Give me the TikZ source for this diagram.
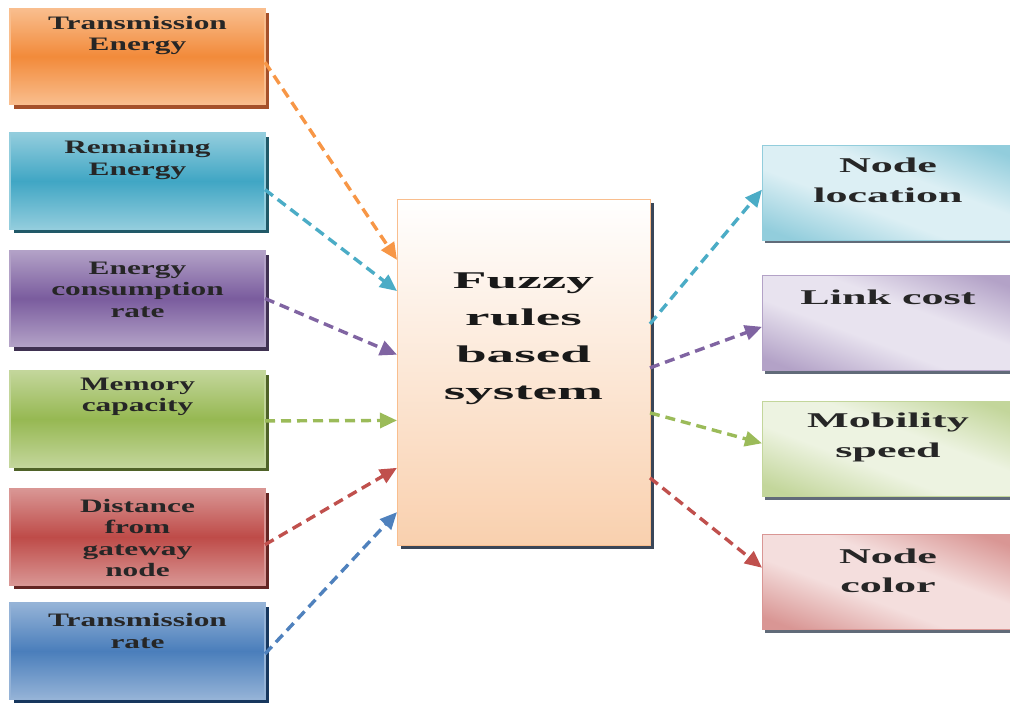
\documentclass[tikz,border=0pt]{standalone}
\usepackage{fontspec}
\setmainfont{Liberation Serif}
\newfontfamily\lfont[FakeStretch=1.65]{Liberation Serif}
\newfontfamily\rfont[FakeStretch=2.1]{Liberation Serif}
\newfontfamily\cfont[FakeStretch=2.3]{Liberation Serif}
\usetikzlibrary{arrows.meta,shadows,calc}
\definecolor{orB}{HTML}{F28A3A}\definecolor{orL}{HTML}{F9BE8E}\definecolor{orS}{HTML}{A5502A}
\definecolor{teB}{HTML}{40A6C4}\definecolor{teL}{HTML}{93CDDD}\definecolor{teS}{HTML}{215968}
\definecolor{puB}{HTML}{7A5C9E}\definecolor{puL}{HTML}{B3A2C7}\definecolor{puS}{HTML}{3F3151}
\definecolor{grB}{HTML}{96B852}\definecolor{grL}{HTML}{C3D69B}\definecolor{grS}{HTML}{4F6228}
\definecolor{rdB}{HTML}{BE4B48}\definecolor{rdL}{HTML}{D99694}\definecolor{rdS}{HTML}{632523}
\definecolor{blB}{HTML}{4A7EBB}\definecolor{blL}{HTML}{95B3D7}\definecolor{blS}{HTML}{17375E}
\definecolor{aOr}{HTML}{F79646}\definecolor{aTe}{HTML}{4BACC6}\definecolor{aPu}{HTML}{8064A2}
\definecolor{aGr}{HTML}{9BBB59}\definecolor{aRd}{HTML}{C0504D}\definecolor{aBl}{HTML}{4F81BD}
\definecolor{rTeC}{HTML}{92CDDC}\definecolor{rTeL}{HTML}{DCEFF4}
\definecolor{rPuC}{HTML}{B3A2C7}\definecolor{rPuL}{HTML}{E8E3EF}
\definecolor{rGrC}{HTML}{C3D69B}\definecolor{rGrL}{HTML}{EDF3E1}
\definecolor{rRdC}{HTML}{D99694}\definecolor{rRdL}{HTML}{F4DEDD}
\definecolor{peach}{HTML}{F9D0AE}
\definecolor{shd}{HTML}{3A4658}
\pgfdeclareverticalshading{vTe}{100bp}{color(0bp)=(rTeC); color(29bp)=(rTeC); color(44bp)=(rTeL); color(56bp)=(rTeL); color(71bp)=(rTeC); color(100bp)=(rTeC)}
\pgfdeclareverticalshading{vPu}{100bp}{color(0bp)=(rPuC); color(29bp)=(rPuC); color(44bp)=(rPuL); color(56bp)=(rPuL); color(71bp)=(rPuC); color(100bp)=(rPuC)}
\pgfdeclareverticalshading{vGr}{100bp}{color(0bp)=(rGrC); color(29bp)=(rGrC); color(44bp)=(rGrL); color(56bp)=(rGrL); color(71bp)=(rGrC); color(100bp)=(rGrC)}
\pgfdeclareverticalshading{vRd}{100bp}{color(0bp)=(rRdC); color(29bp)=(rRdC); color(44bp)=(rRdL); color(56bp)=(rRdL); color(71bp)=(rRdC); color(100bp)=(rRdC)}
\newcommand\diagfill[3]{%
  \begin{scope}
    \clip (#1.north west) rectangle (#1.south east);
    \shade[shading=#2, transform canvas={rotate around={-20.7:(#1.center)}}]
      ($(#1.center)+(-170,-92)$) rectangle ($(#1.center)+(170,92)$);
  \end{scope}
  \draw[draw=#3, line width=1pt] (#1.north west) rectangle (#1.south east);}
\tikzset{
  lbox/.style n args={3}{draw=#2, line width=1.5pt, top color=#2, bottom color=#2, middle color=#1,
    drop shadow={shadow xshift=4pt, shadow yshift=-4pt, fill=#3, opacity=1},
    minimum width=255pt, minimum height=96pt, inner sep=0pt, outer sep=0pt},
  rbox/.style={fill=#1, line width=1pt,
    drop shadow={shadow xshift=3pt, shadow yshift=-3pt, fill=shd!80, opacity=1},
    minimum width=252pt, minimum height=95pt, inner sep=0pt, outer sep=0pt},
  cbox/.style={draw=orL, line width=1pt, top color=white, bottom color=peach,
    drop shadow={shadow xshift=4pt, shadow yshift=-4pt, fill=shd, opacity=1},
    minimum width=253pt, minimum height=346pt, inner sep=0pt, outer sep=0pt},
  ltxt/.style={font=\lfont\bfseries\fontsize{19}{21.5}\selectfont, align=center, inner sep=0pt, text=black!85},
  rtxt/.style={font=\rfont\bfseries\fontsize{21}{29.5}\selectfont, align=center, inner sep=0pt, text=black!85},
  ctxt/.style={font=\cfont\bfseries\fontsize{24}{37}\selectfont, align=center, inner sep=0pt, text=black!90},
  arr/.style={draw=#1, line width=3.4pt, dash pattern=on 10pt off 6pt,
    -{Triangle[length=17pt,width=15pt,fill=#1]}}
}
\begin{document}
\begin{tikzpicture}[x=1pt,y=-1pt]
\useasboundingbox (0,0) rectangle (1010,702);
\clip (0,0) rectangle (1010,702);
% left boxes
\node[lbox={orB}{orL}{orS}] (te) at (137.5,56.5) {};
\node[lbox={teB}{teL}{teS}] (re) at (137.5,181) {};
\node[lbox={puB}{puL}{puS}] (ec) at (137.5,298.5) {};
\node[lbox={grB}{grL}{grS}] (mc) at (137.5,419) {};
\node[lbox={rdB}{rdL}{rdS}] (dg) at (137.5,537) {};
\node[lbox={blB}{blL}{blS}] (tr) at (137.5,651) {};
\node[ltxt] (te-t) at ([yshift=-27pt]te.north) {Transmission\\Energy};
\node[ltxt] (re-t) at ([yshift=-27pt]re.north) {Remaining\\Energy};
\node[ltxt] (ec-t) at ([yshift=-39pt]ec.north) {Energy\\consumption\\rate};
\node[ltxt] (mc-t) at ([yshift=-26pt]mc.north) {Memory\\capacity};
\node[ltxt] (dg-t) at ([yshift=-49pt]dg.north) {Distance\\from\\gateway\\node};
\node[ltxt] (tr-t) at ([yshift=-28pt]tr.north) {Transmission\\rate};
% center
\node[cbox] (fz) at (523.5,372) {};
\node[ctxt] (fz-t) at ([yshift=-139.5pt]fz.north) {Fuzzy\\rules\\based\\system};
% right boxes
\node[rbox=rTeL] (nl) at (888,192.5) {};
\node[rbox=rPuL] (lc) at (888,323) {};
\node[rbox=rGrL] (ms) at (888,449) {};
\node[rbox=rRdL] (nc) at (888,582) {};
\diagfill{nl}{vTe}{rTeC}
\diagfill{lc}{vPu}{rPuC}
\diagfill{ms}{vGr}{rGrC}
\diagfill{nc}{vRd}{rRdC}
\node[rtxt] (nl-t) at ([yshift=-35.5pt]nl.north) {Node\\location};
\node[rtxt] (lc-t) at ([yshift=-22pt]lc.north) {Link cost};
\node[rtxt] (ms-t) at ([yshift=-36pt]ms.north) {Mobility\\speed};
\node[rtxt] (nc-t) at ([yshift=-36.5pt]nc.north) {Node\\color};
% input arrows
\draw[arr=aOr] ($(te.north east)!0.56!(te.south east)$) -- ($(fz.north west)!0.176!(fz.south west)$);
\draw[arr=aTe] ($(re.north east)!0.59!(re.south east)$) -- ($(fz.north west)!0.266!(fz.south west)$);
\draw[arr=aPu] ($(ec.north east)!0.50!(ec.south east)$) -- ($(fz.north west)!0.45!(fz.south west)$);
\draw[arr=aGr] ($(mc.north east)!0.52!(mc.south east)$) -- ($(fz.north west)!0.64!(fz.south west)$);
\draw[arr=aRd] ($(dg.north east)!0.58!(dg.south east)$) -- ($(fz.north west)!0.777!(fz.south west)$);
\draw[arr=aBl] ($(tr.north east)!0.53!(tr.south east)$) -- ($(fz.north west)!0.905!(fz.south west)$);
% output arrows
\draw[arr=aTe] ($(fz.north east)!0.361!(fz.south east)$) -- ($(nl.north west)!0.47!(nl.south west)$);
\draw[arr=aPu] ($(fz.north east)!0.488!(fz.south east)$) -- ($(lc.north west)!0.54!(lc.south west)$);
\draw[arr=aGr] ($(fz.north east)!0.618!(fz.south east)$) -- ($(ms.north west)!0.44!(ms.south west)$);
\draw[arr=aRd] ($(fz.north east)!0.806!(fz.south east)$) -- ($(nc.north west)!0.35!(nc.south west)$);
\end{tikzpicture}
\end{document}
